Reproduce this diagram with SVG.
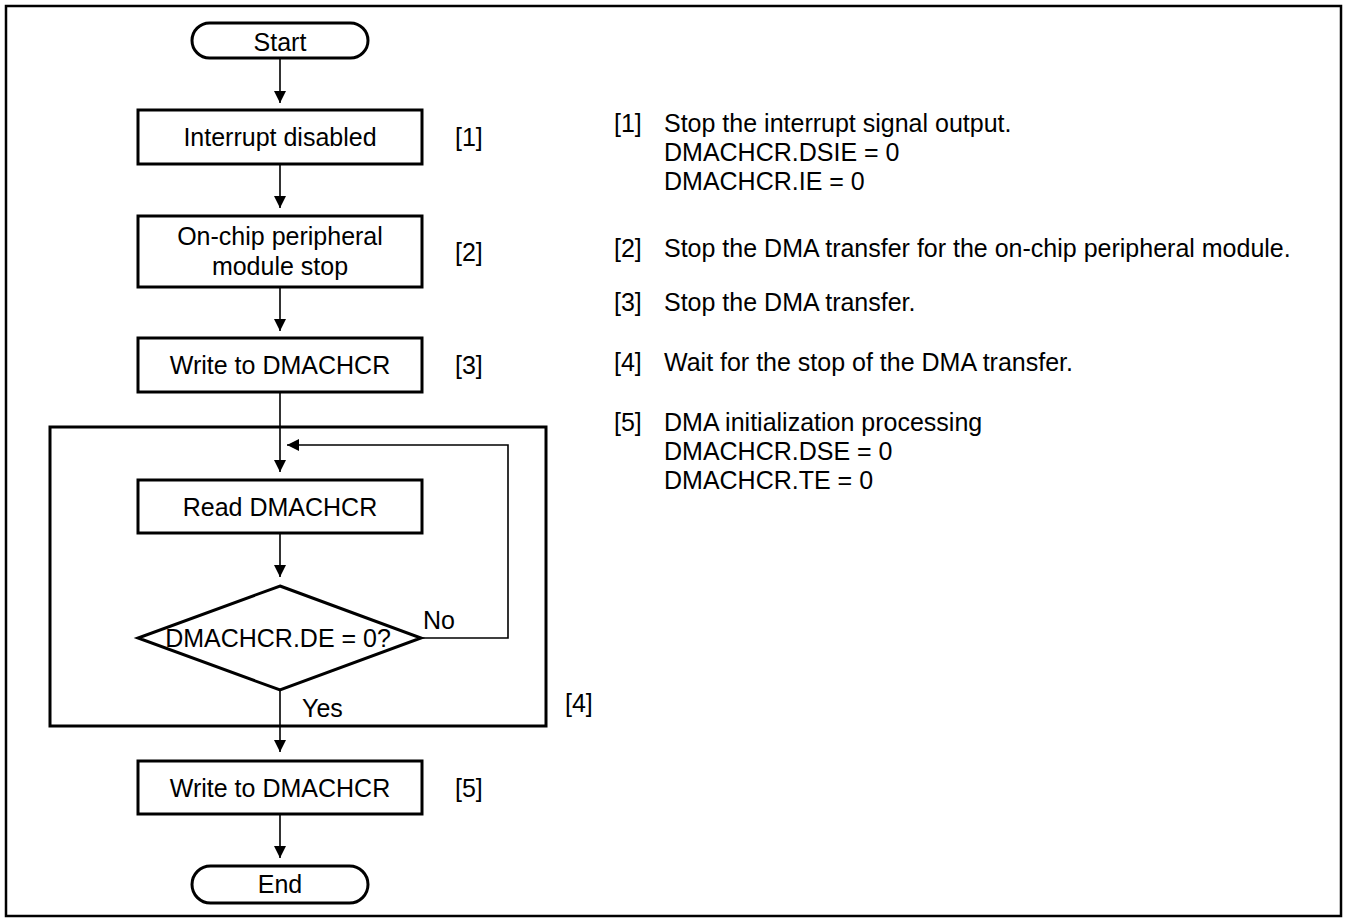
<svg xmlns="http://www.w3.org/2000/svg" width="1346" height="920" viewBox="0 0 1346 920">
<defs>
<marker id="ah" markerWidth="12" markerHeight="12" refX="12" refY="6" orient="auto" markerUnits="userSpaceOnUse">
<path d="M0,0 L12,6 L0,12 Z" fill="#000"/>
</marker>
<style>
text{font-family:"Liberation Sans",Arial,sans-serif;font-size:25px;fill:#000}
.c{text-anchor:middle}
.node{fill:#fff;stroke:#000;stroke-width:3}
.conn{fill:none;stroke:#000;stroke-width:1.6}
</style>
</defs>
<rect width="1346" height="920" fill="#fff"/>
<rect id="frame" x="6" y="6" width="1335" height="910" fill="none" stroke="#000" stroke-width="2.5"/>
<g id="loopbox"><rect x="50" y="427" width="496" height="299" fill="none" stroke="#000" stroke-width="3"/><text x="565" y="712">[4]</text></g>
<g id="connectors">
<line class="conn" x1="280" y1="58" x2="280" y2="103" marker-end="url(#ah)"/>
<line class="conn" x1="280" y1="164" x2="280" y2="208" marker-end="url(#ah)"/>
<line class="conn" x1="280" y1="287" x2="280" y2="331" marker-end="url(#ah)"/>
<line class="conn" x1="280" y1="392" x2="280" y2="472" marker-end="url(#ah)"/>
<line class="conn" x1="280" y1="533" x2="280" y2="577" marker-end="url(#ah)"/>
<polyline class="conn" points="421,638 508,638 508,445 287,445" marker-end="url(#ah)"/>
<line class="conn" x1="280" y1="690" x2="280" y2="752" marker-end="url(#ah)"/>
<line class="conn" x1="280" y1="814" x2="280" y2="858" marker-end="url(#ah)"/>
<text x="423" y="629">No</text>
<text x="302" y="717">Yes</text>
</g>
<g id="start"><rect class="node" x="192" y="23" width="176" height="35" rx="17.5"/><text class="c" x="280" y="51">Start</text></g>
<g id="n1"><rect class="node" x="138" y="110" width="284" height="54"/><text class="c" x="280" y="146">Interrupt disabled</text><text x="455" y="146">[1]</text></g>
<g id="n2"><rect class="node" x="138" y="216" width="284" height="71"/><text class="c" x="280" y="245">On-chip peripheral</text><text class="c" x="280" y="275">module stop</text><text x="455" y="261">[2]</text></g>
<g id="n3"><rect class="node" x="138" y="338" width="284" height="54"/><text class="c" x="280" y="374">Write to DMACHCR</text><text x="455" y="374">[3]</text></g>
<g id="n4"><rect class="node" x="138" y="480" width="284" height="53"/><text class="c" x="280" y="516">Read DMACHCR</text></g>
<g id="n5"><polygon class="node" points="280,586 421,638 280,690 138,638"/><text class="c" x="278" y="647">DMACHCR.DE = 0?</text></g>
<g id="n6"><rect class="node" x="138" y="761" width="284" height="53"/><text class="c" x="280" y="797">Write to DMACHCR</text><text x="455" y="797">[5]</text></g>
<g id="end"><rect class="node" x="192" y="866" width="176" height="37" rx="18.5"/><text class="c" x="280" y="893">End</text></g>
<g id="notes">
<text x="614" y="132">[1]</text><text x="664" y="132">Stop the interrupt signal output.</text>
<text x="664" y="161">DMACHCR.DSIE = 0</text>
<text x="664" y="190">DMACHCR.IE = 0</text>
<text x="614" y="257">[2]</text><text x="664" y="257">Stop the DMA transfer for the on-chip peripheral module.</text>
<text x="614" y="311">[3]</text><text x="664" y="311">Stop the DMA transfer.</text>
<text x="614" y="371">[4]</text><text x="664" y="371">Wait for the stop of the DMA transfer.</text>
<text x="614" y="431">[5]</text><text x="664" y="431">DMA initialization processing</text>
<text x="664" y="460">DMACHCR.DSE = 0</text>
<text x="664" y="489">DMACHCR.TE = 0</text>
</g>
</svg>
